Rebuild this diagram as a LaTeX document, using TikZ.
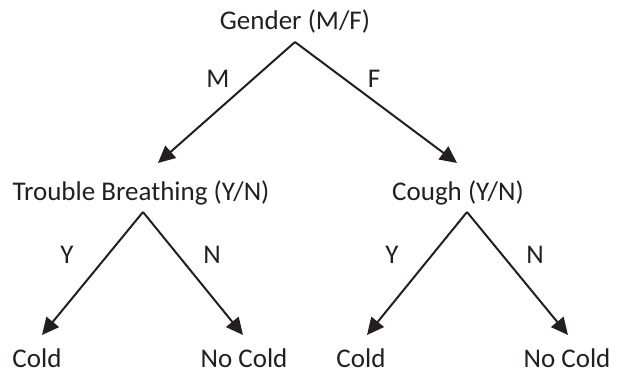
\documentclass[tikz,border=0pt]{standalone}
\usepackage{fontspec}
\setmainfont{Carlito}
\usetikzlibrary{arrows.meta}
\definecolor{ink}{HTML}{231F20}

\begin{document}
\begin{tikzpicture}[x=0.5pt, y=-0.5pt, ink,
	lbl/.style={anchor=base, inner sep=0pt, font=\fontsize{13.5}{16}\selectfont},
	arr/.style={line width=1pt, -{Triangle[length=8.5pt, width=8pt]}}]
	\useasboundingbox (0, 0) rectangle (621, 372);
	% questions and leaves
	\node[lbl] (gender) at (295, 29) {Gender (M/F)};
	\node[lbl] (breath) at (141, 200) {Trouble Breathing (Y/N)};
	\node[lbl] (cough) at (458, 200) {Cough (Y/N)};
	\node[lbl] (cold1) at (37, 367) {Cold};
	\node[lbl] (nocold1) at (244, 367) {No Cold};
	\node[lbl] (cold2) at (361, 367) {Cold};
	\node[lbl] (nocold2) at (567, 367) {No Cold};
	% arrow ends
	\coordinate (g) at (295, 42);
	\coordinate (b) at (143, 212);
	\coordinate (c) at (467, 212);
	\coordinate (b1) at (42, 335);
	\coordinate (b2) at (243, 335);
	\coordinate (c1) at (367, 335);
	\coordinate (c2) at (568, 335);
	\coordinate (gb) at (158, 163);
	\coordinate (gc) at (457, 163);
	\draw[arr] (g) -- (gb);
	\draw[arr] (g) -- (gc);
	\draw[arr] (b) -- (b1);
	\draw[arr] (b) -- (b2);
	\draw[arr] (c) -- (c1);
	\draw[arr] (c) -- (c2);
	% branch labels
	\node[lbl] (m) at (218, 87) {M};
	\node[lbl] (f) at (374, 87) {F};
	\node[lbl] (y1) at (67, 263) {Y};
	\node[lbl] (n1) at (212, 263) {N};
	\node[lbl] (y2) at (392, 263) {Y};
	\node[lbl] (n2) at (535, 263) {N};
\end{tikzpicture}
\end{document}
